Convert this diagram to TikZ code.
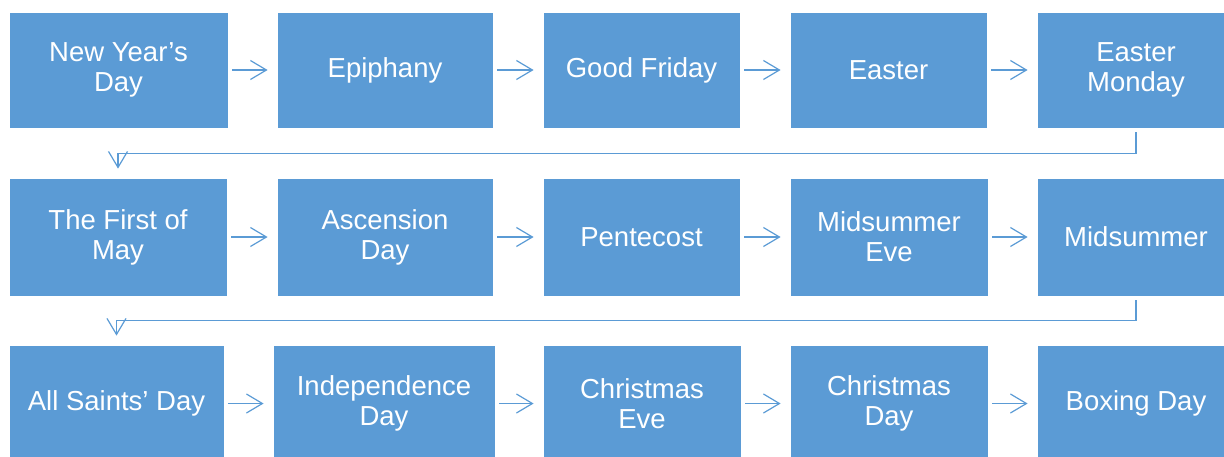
\documentclass[tikz,border=0pt]{standalone}
\usepackage{fontspec}
\setmainfont{Liberation Sans}
\definecolor{holiday}{RGB}{91, 155, 213}
\usepackage{tikz}
\usetikzlibrary{arrows.meta}
\tikzset{
  daybox/.style={fill=holiday, draw=white, line width=0.8pt, text=white,
    inner sep=0pt, align=center, font=\fontsize{27.5}{30}\selectfont},
  link/.style={draw=holiday, line width=1.2pt,
    -{Straight Barb[length=16pt,width=19pt]}, shorten <=4pt, shorten >=9pt}
}

\begin{document}
\begin{tikzpicture}[x=1pt, y=-1pt]
  \clip (0,0) rectangle (1224,456);
  % first row
  \node[daybox, minimum width=219pt, minimum height=116pt] (a1) at (118.5,70) {New Year’s\\Day};
  \node[daybox, minimum width=216pt, minimum height=116pt] (a2) at (385,70) {Epiphany};
  \node[daybox, minimum width=197pt, minimum height=116pt] (a3) at (641.5,70) {Good Friday};
  \node[daybox, minimum width=197pt, minimum height=116pt] (a4) at (888.5,70) {Easter};
  \node[daybox, minimum width=198pt, minimum height=116pt] (a5) at (1136,70) {Easter\\Monday};
  % second row
  \node[daybox, minimum width=218pt, minimum height=118pt] (b1) at (118,237) {The First of\\May};
  \node[daybox, minimum width=216pt, minimum height=118pt] (b2) at (385,237) {Ascension\\Day};
  \node[daybox, minimum width=197pt, minimum height=118pt] (b3) at (641.5,237) {Pentecost};
  \node[daybox, minimum width=198pt, minimum height=118pt] (b4) at (889,237) {Midsummer\\Eve};
  \node[daybox, minimum width=198pt, minimum height=118pt] (b5) at (1136,237) {Midsummer};
  % third row
  \node[daybox, minimum width=215pt, minimum height=117pt] (c1) at (116.5,403.5) {All Saints’ Day};
  \node[daybox, minimum width=222pt, minimum height=117pt] (c2) at (384,403.5) {Independence\\Day};
  \node[daybox, minimum width=198pt, minimum height=117pt] (c3) at (642,403.5) {Christmas\\Eve};
  \node[daybox, minimum width=198pt, minimum height=117pt] (c4) at (889,403.5) {Christmas\\Day};
  \node[daybox, minimum width=198pt, minimum height=117pt] (c5) at (1136,403.5) {Boxing Day};
  % arrows
  \foreach \r in {a,b,c}{
    \draw[link] (\r1) -- (\r2);
    \draw[link] (\r2) -- (\r3);
    \draw[link] (\r3) -- (\r4);
    \draw[link] (\r4) -- (\r5);
  }
  \draw[link] (a5.south) -- ++(0,25) -| (b1.north);
  \draw[link] (b5.south) -- ++(0,24) -| (c1.north);
\end{tikzpicture}
\end{document}
